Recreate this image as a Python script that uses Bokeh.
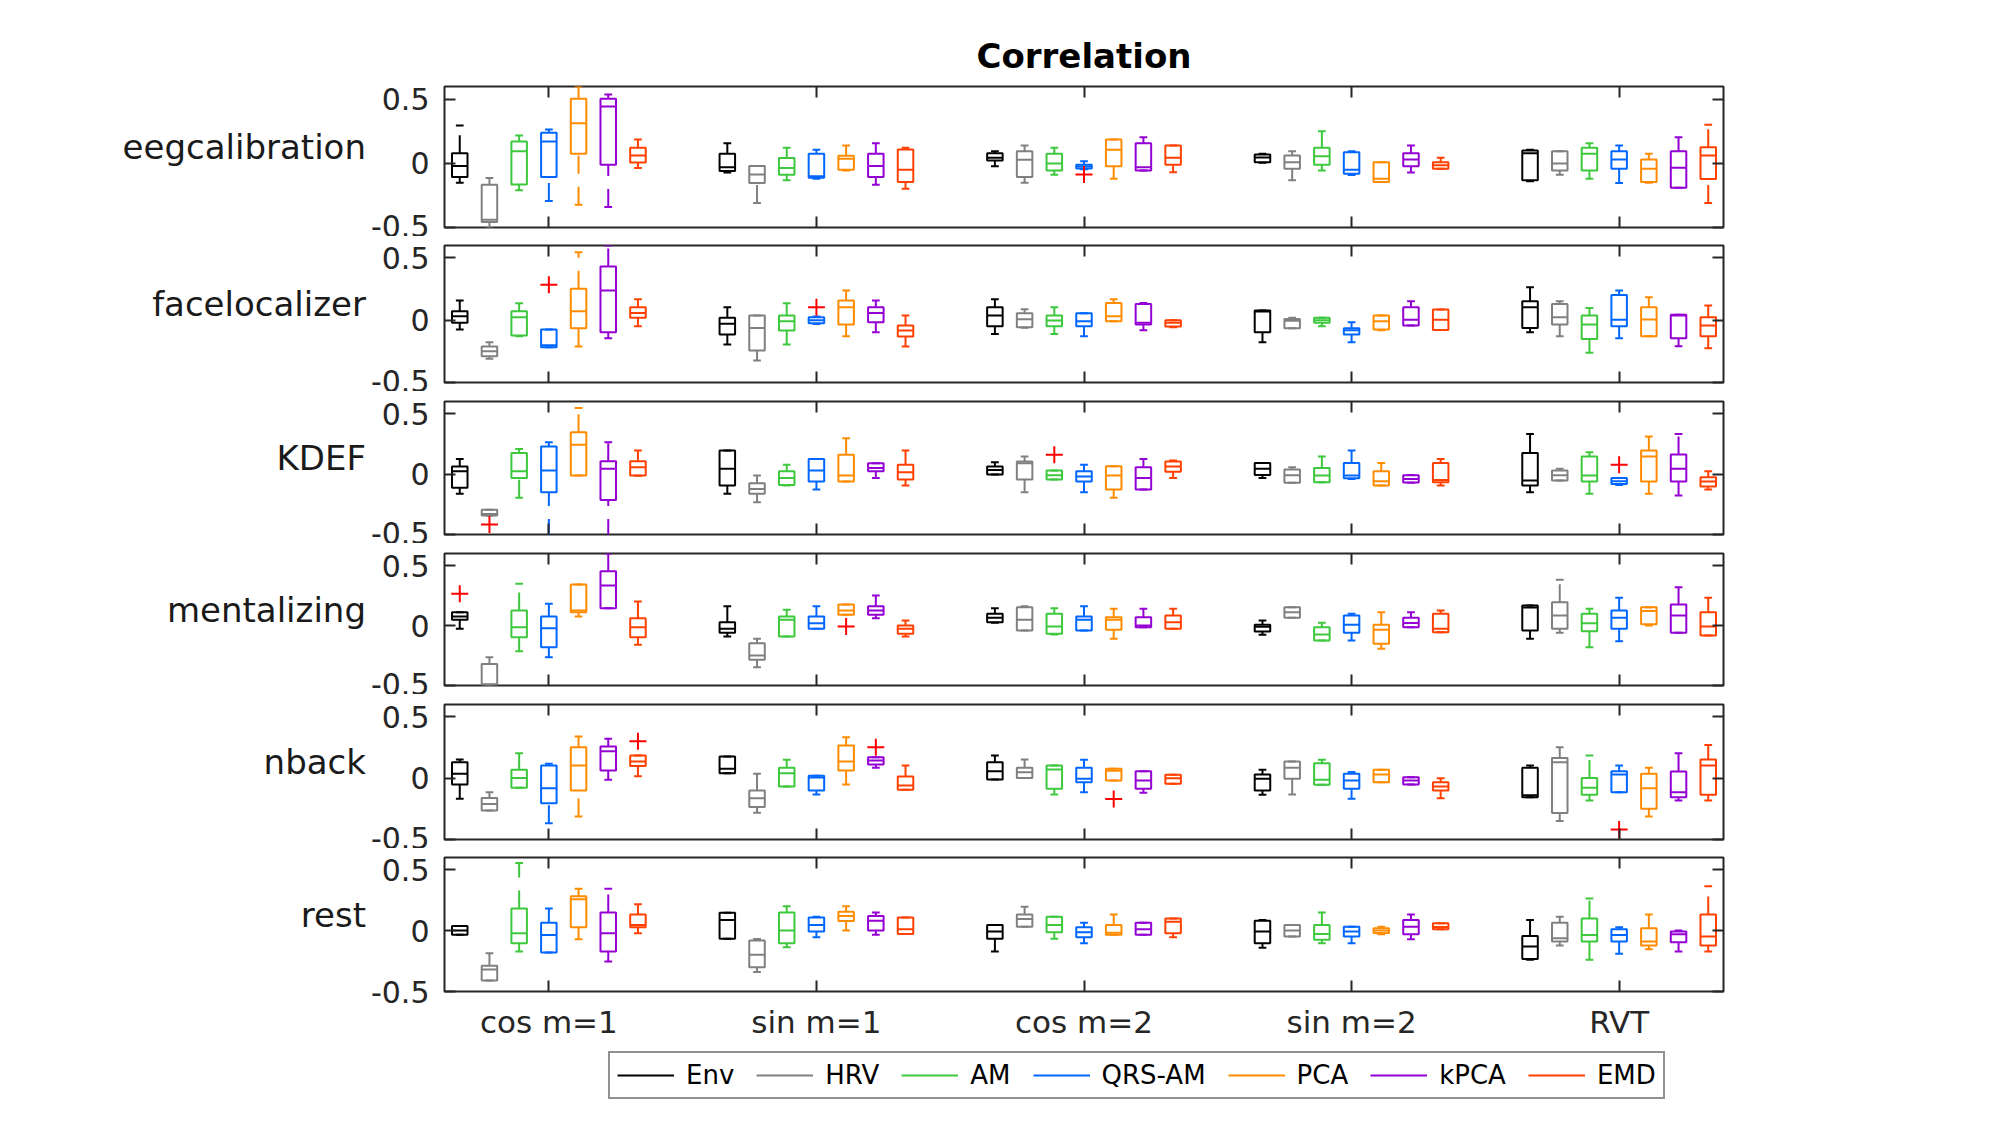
from bokeh.plotting import figure
from bokeh.models import ColumnDataSource, FixedTicker, LinearAxis, Range1d, Legend, LegendItem
from bokeh.layouts import column
from bokeh.embed import file_html
from bokeh.resources import INLINE

groups = ["cos m=1", "sin m=1", "cos m=2", "sin m=2", "RVT"]
methods = ["Env", "HRV", "AM", "QRS-AM", "PCA", "kPCA", "EMD"]
colors = ["#000000", "#808080", "#3dc83d", "#0066ff", "#ff8c00", "#9400d3", "#ff4000"]
rows = ["eegcalibration", "facelocalizer", "KDEF", "mentalizing", "nback", "rest"]
ytick_values = [-0.5, 0, 0.5]
ytick_labels = ["-0.5", "0", "0.5"]

# each group: 7 boxes (Env..EMD) as (lower whisker, q1, median, q3, upper whisker)
eegcalibration = [
    [(-0.15, -0.106, -0.02, 0.08, 0.296), (-0.5, -0.457, -0.44, -0.166, -0.114), (-0.21, -0.164, 0.094, 0.171, 0.218),
     (-0.294, -0.106, 0.171, 0.239, 0.265), (-0.322, 0.075, 0.314, 0.504, 0.6), (-0.34, -0.01, 0.444, 0.504, 0.538),
     (-0.036, 0.008, 0.062, 0.122, 0.187)],
    [(-0.07, -0.06, -0.03, 0.075, 0.158), (-0.309, -0.153, -0.086, -0.02, -0.02), (-0.132, -0.088, -0.036, 0.042, 0.122),
     (-0.12, -0.112, -0.1, 0.075, 0.106), (-0.055, -0.05, 0.036, 0.06, 0.14), (-0.166, -0.106, -0.02, 0.075, 0.158),
     (-0.197, -0.145, -0.05, 0.109, 0.122)],
    [(-0.023, 0.023, 0.044, 0.08, 0.094), (-0.15, -0.106, 0.029, 0.094, 0.14), (-0.088, -0.055, 0.0, 0.075, 0.122),
     (-0.045, -0.04, -0.025, -0.01, 0.016), (-0.12, -0.023, 0.106, 0.187, 0.187), (-0.055, -0.055, -0.03, 0.158, 0.205),
     (-0.068, -0.01, 0.044, 0.14, 0.14)],
    [(0.005, 0.01, 0.047, 0.07, 0.075), (-0.132, -0.042, 0.01, 0.062, 0.094), (-0.055, -0.01, 0.055, 0.122, 0.25),
     (-0.09, -0.08, -0.05, 0.088, 0.094), (-0.145, -0.145, -0.12, 0.01, 0.01), (-0.07, -0.023, 0.03, 0.08, 0.14),
     (-0.042, -0.042, -0.015, 0.01, 0.044)],
    [(-0.14, -0.132, 0.08, 0.1, 0.106), (-0.088, -0.055, 0.0, 0.094, 0.094), (-0.12, -0.055, 0.075, 0.122, 0.158),
     (-0.153, -0.042, 0.03, 0.094, 0.14), (-0.15, -0.145, -0.042, 0.03, 0.075), (-0.19, -0.19, -0.034, 0.094, 0.205),
     (-0.309, -0.122, 0.062, 0.127, 0.301)],
]
facelocalizer = [
    [(-0.075, -0.021, 0.032, 0.072, 0.158), (-0.31, -0.29, -0.25, -0.211, -0.177), (-0.128, -0.123, 0.024, 0.072, 0.137),
     (-0.217, -0.217, -0.2, -0.075, -0.075), (-0.211, -0.064, 0.072, 0.252, 0.546), (-0.145, -0.096, 0.238, 0.431, 0.6),
     (-0.048, 0.019, 0.059, 0.104, 0.169)],
    [(-0.195, -0.115, -0.029, 0.019, 0.104), (-0.324, -0.244, -0.062, 0.037, 0.037), (-0.195, -0.083, -0.008, 0.037, 0.137),
     (-0.03, -0.024, 0.0, 0.024, 0.03), (-0.128, -0.035, 0.104, 0.158, 0.238), (-0.096, -0.016, 0.059, 0.104, 0.158),
     (-0.211, -0.131, -0.083, -0.043, 0.037)],
    [(-0.11, -0.048, 0.037, 0.104, 0.169), (-0.06, -0.056, 0.008, 0.056, 0.088), (-0.11, -0.048, -0.003, 0.037, 0.104),
     (-0.128, -0.048, -0.008, 0.056, 0.056), (-0.008, -0.008, 0.032, 0.139, 0.169), (-0.08, -0.035, -0.02, 0.13, 0.139),
     (-0.056, -0.05, -0.02, 0.0, 0.0)],
    [(-0.177, -0.096, 0.07, 0.078, 0.078), (-0.064, -0.064, -0.005, 0.01, 0.02), (-0.048, -0.02, 0.0, 0.019, 0.019),
     (-0.177, -0.115, -0.08, -0.064, -0.016), (-0.08, -0.075, -0.008, 0.037, 0.037), (-0.043, -0.043, 0.003, 0.104, 0.153),
     (-0.078, -0.078, 0.003, 0.086, 0.086)],
    [(-0.096, -0.062, 0.104, 0.153, 0.265), (-0.128, -0.035, 0.024, 0.131, 0.153), (-0.262, -0.15, -0.035, 0.037, 0.099),
     (-0.145, -0.048, 0.003, 0.203, 0.238), (-0.128, -0.128, 0.005, 0.104, 0.185), (-0.209, -0.145, 0.037, 0.043, 0.043),
     (-0.225, -0.128, -0.043, 0.024, 0.118)],
]
KDEF = [
    [(-0.164, -0.114, 0.023, 0.062, 0.125), (-0.343, -0.343, -0.33, -0.296, -0.296), (-0.197, -0.032, 0.023, 0.175, 0.208),
     (-0.52, -0.15, 0.029, 0.227, 0.263), (-0.012, -0.012, 0.243, 0.346, 0.547), (-0.52, -0.214, 0.043, 0.106, 0.263),
     (-0.015, -0.012, 0.057, 0.106, 0.194)],
    [(-0.164, -0.095, 0.043, 0.194, 0.194), (-0.233, -0.164, -0.123, -0.076, -0.012), (-0.095, -0.09, -0.032, 0.023, 0.076),
     (-0.128, -0.062, 0.029, 0.125, 0.125), (-0.062, -0.062, -0.012, 0.159, 0.296), (-0.032, 0.023, 0.05, 0.09, 0.09),
     (-0.095, -0.045, 0.015, 0.076, 0.194)],
    [(-0.004, -0.004, 0.034, 0.062, 0.098), (-0.15, -0.045, 0.09, 0.103, 0.145), (-0.045, -0.045, -0.01, 0.029, 0.029),
     (-0.15, -0.062, -0.02, 0.023, 0.076), (-0.197, -0.128, -0.012, 0.065, 0.065), (-0.128, -0.128, -0.032, 0.056, 0.125),
     (-0.032, 0.02, 0.062, 0.103, 0.111)],
    [(-0.032, -0.007, 0.043, 0.092, 0.092), (-0.073, -0.073, -0.01, 0.037, 0.056), (-0.068, -0.068, -0.012, 0.051, 0.145),
     (-0.04, -0.034, -0.012, 0.092, 0.194), (-0.095, -0.095, -0.06, 0.023, 0.092), (-0.073, -0.07, -0.04, -0.01, -0.007),
     (-0.095, -0.068, -0.05, 0.092, 0.125)],
    [(-0.15, -0.095, -0.054, 0.175, 0.332), (-0.054, -0.054, -0.01, 0.029, 0.043), (-0.164, -0.062, -0.012, 0.145, 0.18),
     (-0.09, -0.082, -0.06, -0.032, -0.032), (-0.164, -0.062, 0.145, 0.194, 0.31), (-0.178, -0.062, 0.043, 0.161, 0.332),
     (-0.128, -0.103, -0.062, -0.026, 0.023)],
]
mentalizing = [
    [(-0.028, 0.047, 0.075, 0.111, 0.111), (-0.5, -0.494, -0.49, -0.32, -0.264), (-0.214, -0.097, -0.014, 0.125, 0.347),
     (-0.264, -0.181, -0.022, 0.075, 0.181), (0.075, 0.111, 0.125, 0.342, 0.342), (0.144, 0.144, 0.333, 0.453, 0.6),
     (-0.161, -0.097, -0.014, 0.061, 0.2)],
    [(-0.092, -0.061, -0.028, 0.028, 0.161), (-0.347, -0.286, -0.25, -0.147, -0.111), (-0.092, -0.092, 0.047, 0.075, 0.131),
     (-0.028, -0.028, 0.019, 0.075, 0.161), (0.089, 0.089, 0.125, 0.175, 0.175), (0.061, 0.089, 0.125, 0.161, 0.25),
     (-0.092, -0.069, -0.028, 0.0, 0.042)],
    [(0.022, 0.028, 0.064, 0.097, 0.144), (-0.042, -0.042, 0.047, 0.153, 0.161), (-0.075, -0.069, -0.008, 0.097, 0.144),
     (-0.042, -0.042, 0.047, 0.075, 0.161), (-0.111, -0.036, 0.047, 0.069, 0.139), (-0.014, -0.014, 0.0, 0.069, 0.139),
     (-0.028, -0.028, 0.028, 0.083, 0.139)],
    [(-0.078, -0.05, -0.01, 0.006, 0.042), (0.064, 0.064, 0.111, 0.153, 0.153), (-0.125, -0.125, -0.075, -0.014, 0.022),
     (-0.125, -0.061, 0.006, 0.083, 0.097), (-0.194, -0.153, -0.036, 0.006, 0.111), (-0.014, -0.014, 0.02, 0.064, 0.111),
     (-0.056, -0.056, -0.028, 0.097, 0.125)],
    [(-0.111, -0.042, 0.15, 0.167, 0.167), (-0.061, -0.028, 0.083, 0.194, 0.381), (-0.181, -0.047, 0.019, 0.097, 0.139),
     (-0.131, -0.028, 0.064, 0.125, 0.231), (0.0, 0.01, 0.12, 0.153, 0.153), (-0.061, -0.061, 0.083, 0.175, 0.319),
     (-0.083, -0.083, -0.008, 0.111, 0.231)],
]
nback = [
    [(-0.168, -0.052, 0.035, 0.13, 0.152), (-0.264, -0.264, -0.21, -0.161, -0.114), (-0.079, -0.079, 0.002, 0.068, 0.203),
     (-0.367, -0.204, -0.082, 0.103, 0.117), (-0.313, -0.101, 0.103, 0.252, 0.339), (-0.014, 0.062, 0.22, 0.258, 0.32),
     (0.016, 0.098, 0.135, 0.184, 0.184)],
    [(0.04, 0.04, 0.076, 0.176, 0.176), (-0.283, -0.236, -0.163, -0.1, 0.035), (-0.068, -0.068, 0.04, 0.084, 0.149),
     (-0.134, -0.1, 0.005, 0.02, 0.02), (-0.052, 0.062, 0.135, 0.266, 0.334), (0.084, 0.111, 0.143, 0.171, 0.171),
     (-0.095, -0.095, -0.06, 0.013, 0.103)],
    [(-0.011, -0.011, 0.057, 0.13, 0.184), (0.002, 0.002, 0.048, 0.084, 0.152), (-0.134, -0.087, 0.07, 0.103, 0.103),
     (-0.114, -0.033, -0.006, 0.084, 0.149), (-0.019, -0.019, 0.06, 0.076, 0.076), (-0.12, -0.087, -0.019, 0.057, 0.057),
     (-0.046, -0.046, 0.0, 0.027, 0.027)],
    [(-0.136, -0.1, -0.006, 0.03, 0.068), (-0.133, -0.006, 0.084, 0.135, 0.135), (-0.054, -0.054, -0.014, 0.122, 0.149),
     (-0.168, -0.087, -0.019, 0.035, 0.049), (-0.033, -0.033, 0.03, 0.068, 0.068), (-0.052, -0.052, -0.02, 0.008, 0.008),
     (-0.163, -0.1, -0.068, -0.033, 0.0)],
    [(-0.155, -0.155, -0.14, 0.084, 0.103), (-0.35, -0.285, 0.13, 0.165, 0.252), (-0.182, -0.136, -0.079, 0.002, 0.184),
     (-0.114, -0.114, 0.03, 0.057, 0.103), (-0.313, -0.25, -0.082, 0.035, 0.084), (-0.182, -0.155, -0.114, 0.054, 0.203),
     (-0.182, -0.136, 0.103, 0.152, 0.271)],
]
rest = [
    [(-0.035, -0.035, 0.0, 0.038, 0.038), (-0.41, -0.41, -0.32, -0.288, -0.185), (-0.171, -0.104, -0.022, 0.182, 0.554),
     (-0.179, -0.179, -0.036, 0.065, 0.182), (-0.071, 0.027, 0.258, 0.282, 0.344), (-0.253, -0.171, -0.022, 0.149, 0.344),
     (-0.022, 0.027, 0.046, 0.133, 0.217)],
    [(-0.068, -0.068, 0.087, 0.146, 0.146), (-0.34, -0.3, -0.199, -0.082, -0.07), (-0.136, -0.104, 0.0, 0.149, 0.2),
     (-0.054, -0.008, 0.046, 0.108, 0.114), (0.0, 0.078, 0.119, 0.155, 0.2), (-0.035, 0.0, 0.081, 0.119, 0.149),
     (-0.027, -0.027, 0.01, 0.108, 0.108)],
    [(-0.171, -0.068, -0.008, 0.046, 0.046), (0.032, 0.032, 0.095, 0.133, 0.195), (-0.068, -0.014, 0.046, 0.114, 0.114),
     (-0.103, -0.054, -0.014, 0.027, 0.065), (-0.035, -0.035, -0.018, 0.046, 0.133), (-0.035, -0.035, 0.01, 0.065, 0.065),
     (-0.054, -0.022, 0.073, 0.1, 0.1)],
    [(-0.14, -0.104, -0.008, 0.081, 0.087), (-0.049, -0.049, 0.0, 0.046, 0.046), (-0.103, -0.076, -0.027, 0.046, 0.149),
     (-0.103, -0.049, -0.008, 0.032, 0.032), (-0.03, -0.02, 0.0, 0.02, 0.032), (-0.071, -0.03, 0.032, 0.087, 0.133),
     (0.01, 0.01, 0.03, 0.06, 0.06)],
    [(-0.24, -0.234, -0.13, -0.044, 0.087), (-0.122, -0.09, -0.063, 0.065, 0.114), (-0.239, -0.09, -0.036, 0.1, 0.263),
     (-0.19, -0.09, -0.036, 0.01, 0.027), (-0.153, -0.122, -0.09, 0.019, 0.133), (-0.171, -0.095, -0.03, -0.008, 0.0),
     (-0.171, -0.122, -0.049, 0.133, 0.363)],
]
# outliers: (row, group, method, value)
outliers = [
    ("eegcalibration", "cos m=2", "QRS-AM", -0.086),
    ("facelocalizer", "cos m=1", "QRS-AM", 0.284),
    ("facelocalizer", "sin m=1", "QRS-AM", 0.104),
    ("KDEF", "cos m=1", "HRV", -0.418),
    ("KDEF", "cos m=2", "AM", 0.159),
    ("KDEF", "RVT", "QRS-AM", 0.076),
    ("mentalizing", "cos m=1", "Env", 0.264),
    ("mentalizing", "sin m=1", "PCA", -0.008),
    ("nback", "cos m=1", "EMD", 0.301),
    ("nback", "sin m=1", "kPCA", 0.252),
    ("nback", "cos m=2", "PCA", -0.169),
    ("nback", "RVT", "QRS-AM", -0.419),
]
row_stats = {"eegcalibration": eegcalibration, "facelocalizer": facelocalizer, "KDEF": KDEF,
             "mentalizing": mentalizing, "nback": nback, "rest": rest}

# ---- layout ----
FONT = "DejaVu Sans"
AX = "#262626"
W = 1990
LEFT, FRAME_W = 444, 1279
RIGHT = W - LEFT - FRAME_W
STEP = 0.111      # offset between boxes within a group
BW = 0.058        # box width
CW = 0.029        # whisker cap width
# (top border, frame height, bottom border) per panel
geom = [(86, 141, 9), (9, 137, 9), (10, 133, 9), (10, 132, 9), (10, 135, 9), (9, 135, 50)]


def xpos(g, m):
    return (g + 1) + (m - 3) * STEP


def style(ax, show):
    ax.axis_line_color = None
    ax.major_tick_in = 11
    ax.major_tick_out = 0
    ax.minor_tick_in = 0
    ax.minor_tick_out = 0
    ax.major_tick_line_color = AX
    ax.major_tick_line_width = 2
    ax.major_label_text_font = FONT
    ax.major_label_text_color = AX
    if not show:
        ax.major_label_text_font_size = "0px"
        ax.major_label_text_color = None
        ax.major_label_standoff = 0


def make_panel(idx, name):
    top, fh, bot = geom[idx]
    last = idx == len(rows) - 1
    p = figure(width=W, height=top + fh + bot, x_range=Range1d(0.61, 5.39), y_range=Range1d(-0.5, 0.6),
               output_backend="svg", toolbar_location=None, x_axis_location=None, y_axis_location=None,
               min_border_left=LEFT, min_border_right=RIGHT, min_border_top=top, min_border_bottom=bot)
    p.grid.visible = False
    p.outline_line_color = AX
    p.outline_line_width = 2

    xs, lo, q1, md, q3, hi, col = [], [], [], [], [], [], []
    for g, grp in enumerate(row_stats[name]):
        for m, st in enumerate(grp):
            xs.append(xpos(g, m))
            lo.append(st[0]); q1.append(st[1]); md.append(st[2]); q3.append(st[3]); hi.append(st[4])
            col.append(colors[m])
    src = ColumnDataSource(dict(
        x=xs, lo=lo, q1=q1, med=md, q3=q3, hi=hi, color=col,
        bl=[x - BW / 2 for x in xs], br=[x + BW / 2 for x in xs],
        cl=[x - CW / 2 for x in xs], cr=[x + CW / 2 for x in xs]))
    lw = 2
    p.segment(x0="x", y0="q3", x1="x", y1="hi", source=src, line_color="color", line_width=lw, line_dash="18 13")
    p.segment(x0="x", y0="lo", x1="x", y1="q1", source=src, line_color="color", line_width=lw, line_dash="18 13")
    p.segment(x0="cl", y0="hi", x1="cr", y1="hi", source=src, line_color="color", line_width=lw)
    p.segment(x0="cl", y0="lo", x1="cr", y1="lo", source=src, line_color="color", line_width=lw)
    p.quad(left="bl", right="br", bottom="q1", top="q3", source=src, fill_color=None,
           line_color="color", line_width=lw)
    p.segment(x0="bl", y0="med", x1="br", y1="med", source=src, line_color="color", line_width=lw)

    ox = [xpos(groups.index(gn), methods.index(mn)) for (rn, gn, mn, v) in outliers if rn == name]
    oy = [v for (rn, gn, mn, v) in outliers if rn == name]
    if ox:
        p.scatter(x=ox, y=oy, marker="cross", size=17, line_color="#ff0000", line_width=2)

    yt = FixedTicker(ticks=ytick_values)
    left = LinearAxis(ticker=yt, major_label_overrides=dict(zip(ytick_values, ytick_labels)))
    style(left, True)
    left.major_label_text_font_size = "30px"
    left.major_label_standoff = 15
    # trailing empty line with a reduced line height lifts the name a little above the centre
    left.axis_label = name + "\n"
    left.axis_label_text_line_height = 0.5
    left.axis_label_orientation = "horizontal"
    left.axis_label_text_font = FONT
    left.axis_label_text_font_size = "34px"
    left.axis_label_text_font_style = "normal"
    left.axis_label_text_color = "#1a1a1a"
    left.axis_label_standoff = 2
    p.add_layout(left, "left")

    right = LinearAxis(ticker=FixedTicker(ticks=ytick_values))
    style(right, False)
    p.add_layout(right, "right")

    xt_vals = list(range(1, len(groups) + 1))
    above = LinearAxis(ticker=FixedTicker(ticks=xt_vals))
    style(above, False)
    p.add_layout(above, "above")

    below = LinearAxis(ticker=FixedTicker(ticks=xt_vals),
                       major_label_overrides=dict(zip(xt_vals, groups)))
    style(below, last)
    if last:
        below.major_label_text_font_size = "31px"
        below.major_label_standoff = 12
    p.add_layout(below, "below")

    if idx == 0:
        p.title.text = "Correlation"
        p.title.align = "center"
        p.title.text_font = FONT
        p.title.text_font_size = "34px"
        p.title.text_font_style = "bold"
        p.title.text_color = "#000000"
        p.title.standoff = 22
    return p


panels = [make_panel(i, r) for i, r in enumerate(rows)]

# legend strip (same borders as the panels so the column keeps them aligned)
LEG_H = 66
pl = figure(width=W, height=LEG_H, x_range=Range1d(0, 1), y_range=Range1d(0, 1), output_backend="svg",
            toolbar_location=None, x_axis_location=None, y_axis_location=None,
            min_border_left=LEFT, min_border_right=RIGHT, min_border_top=0, min_border_bottom=0)
pl.grid.visible = False
pl.outline_line_color = None
nan = float("nan")
rends = [pl.line(x=[nan], y=[nan], line_color=c, line_width=2) for c in colors]
legend = Legend(items=[LegendItem(label=m, renderers=[r]) for m, r in zip(methods, rends)],
                orientation="horizontal", location=(164, 9), margin=0, padding=7, spacing=22,
                glyph_width=57, glyph_height=24, label_standoff=12,
                label_text_font=FONT, label_text_font_size="26px", label_text_color="#000000",
                border_line_color=AX, border_line_width=2, background_fill_color="white",
                background_fill_alpha=1)
pl.add_layout(legend, "center")

layout = column(*panels, pl, spacing=0)
open("out.html", "w").write(file_html(layout, INLINE, title="Correlation"))
